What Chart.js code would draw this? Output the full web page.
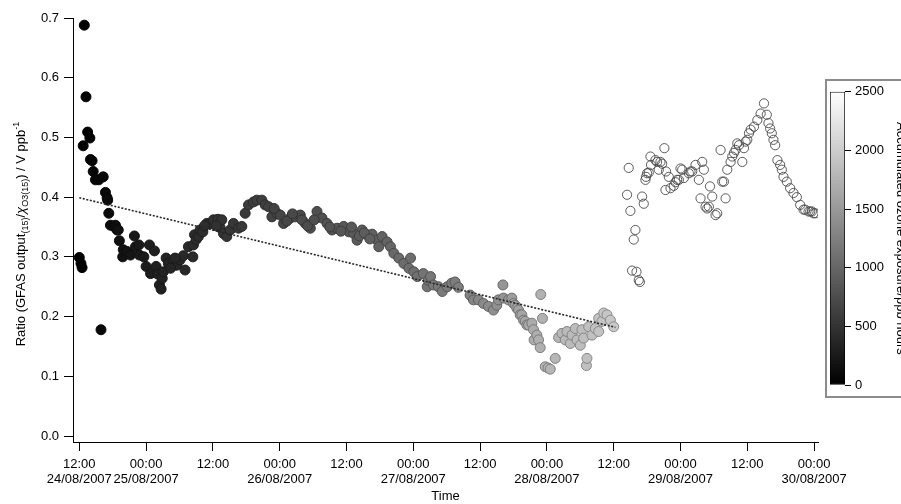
<!DOCTYPE html>
<html>
<head>
<meta charset="utf-8">
<script src="https://cdn.jsdelivr.net/npm/chart.js@4.4.1/dist/chart.umd.min.js"></script>
<style>
  html, body { margin: 0; padding: 0; background: #fff; overflow: hidden; }
  #wrap { position: relative; width: 901px; height: 504px; overflow: hidden; }
  #main { position: absolute; left: 0; top: 0; }
  #cbBox { position: absolute; left: 825px; top: 79px; width: 120px; height: 319px;
           border: 2px solid #8c8c8c; box-sizing: border-box; }
  #cb { position: absolute; left: 826px; top: 80px; }
</style>
</head>
<body>
<div id="wrap">
  <canvas id="main" width="901" height="504"></canvas>
  <div id="cbBox"></div>
  <canvas id="cb" width="82" height="318"></canvas>
</div>
<script>
/* Ratio of GFAS output to ozone, coloured by accumulated exposure */

const FONT = "'Liberation Sans', Arial, Helvetica, sans-serif";

// ---------------------- Data ----------------------
// x = hours since 24/08/2007 00:00
const X_TICK_HOURS = [12, 24, 36, 48, 60, 72, 84, 96, 108, 120, 132, 144];
const X_TICK_TIMES = ['12:00', '00:00', '12:00', '00:00', '12:00', '00:00',
                      '12:00', '00:00', '12:00', '00:00', '12:00', '00:00'];
const X_TICK_DATES = ['24/08/2007', '25/08/2007', '', '26/08/2007', '', '27/08/2007',
                      '', '28/08/2007', '', '29/08/2007', '', '30/08/2007'];
const Y_TICKS = [0, 0.1, 0.2, 0.3, 0.4, 0.5, 0.6, 0.7];
const CB_TICKS = [0, 500, 1000, 1500, 2000, 2500];

// points with exposure data (filled, grey scale)
const FILLED_HOURS = [
  12.0, 12.3, 12.5, 12.7, 12.9, 13.2, 13.5, 13.9, 14.0, 14.3,
  14.5, 14.9, 15.5, 15.9, 16.3, 16.7, 17.0, 17.1, 17.3, 17.6,
  18.2, 18.5, 18.8, 19.0, 19.2, 19.8, 19.9, 20.6, 21.2, 21.9,
  22.1, 22.7, 22.8, 23.6, 24.0, 24.6, 24.8, 25.5, 25.8, 26.1,
  26.4, 26.7, 26.9, 27.1, 27.6, 28.0, 28.9, 29.5, 30.1, 30.7,
  31.0, 31.6, 32.4, 32.5, 32.7, 33.0, 33.4, 33.7, 34.2, 34.9,
  35.5, 36.1, 36.9, 37.3, 37.6, 37.9, 38.5, 39.1, 39.7, 40.6,
  41.2, 41.8, 42.4, 43.3, 43.9, 44.8, 45.4, 46.0, 46.6, 47.5,
  48.1, 48.7, 49.9, 50.8, 51.7, 52.6, 53.5, 54.7, 55.6, 56.5,
  57.4, 58.3, 59.5, 60.4, 61.3, 61.9, 62.8, 63.7, 64.6, 65.5,
  65.8, 66.4, 67.3, 67.9, 68.5, 69.4, 70.3, 71.2, 71.5, 72.1,
  72.7, 73.8, 74.5, 74.7, 75.1, 75.6, 76.5, 77.2, 78.1, 78.9,
  79.5, 80.1, 82.2, 82.8, 83.7, 84.6, 85.5, 86.4, 87.0, 87.3,
  88.1, 88.2, 89.1, 89.7, 90.0, 90.3, 90.6, 90.9, 91.2, 91.5,
  91.8, 92.1, 92.4, 92.7, 93.3, 93.6, 93.7, 94.2, 94.5, 94.8,
  94.9, 95.2, 95.7, 96.2, 96.6, 97.5, 98.1, 98.7, 99.3, 99.6,
  100.2, 100.5, 101.1, 101.4, 102.0, 102.3, 102.6, 103.1, 103.2, 103.5,
  104.1, 104.7, 105.3, 105.3, 105.9, 106.2, 106.8, 107.4, 108.0,
  28.4, 29.2, 34.5, 36.6, 47.0, 49.3, 50.3, 52.0, 53.0, 54.2,
  57.0, 59.0, 60.9, 62.3, 63.2, 64.2,
];
const FILLED_RATIO = [
  0.299, 0.289, 0.282, 0.486, 0.688, 0.568, 0.509, 0.499, 0.463, 0.461,
  0.443, 0.429, 0.429, 0.178, 0.434, 0.408, 0.399, 0.395, 0.373, 0.353,
  0.351, 0.353, 0.345, 0.345, 0.327, 0.300, 0.312, 0.309, 0.303, 0.335,
  0.317, 0.320, 0.303, 0.300, 0.284, 0.320, 0.272, 0.310, 0.284, 0.271,
  0.253, 0.246, 0.264, 0.275, 0.298, 0.289, 0.292, 0.286, 0.295, 0.302,
  0.278, 0.317, 0.300, 0.320, 0.337, 0.329, 0.334, 0.345, 0.342, 0.356,
  0.355, 0.362, 0.363, 0.349, 0.362, 0.339, 0.334, 0.345, 0.356, 0.348,
  0.351, 0.373, 0.387, 0.392, 0.395, 0.395, 0.387, 0.384, 0.367, 0.373,
  0.370, 0.356, 0.365, 0.367, 0.370, 0.356, 0.348, 0.376, 0.365, 0.356,
  0.345, 0.348, 0.351, 0.342, 0.339, 0.328, 0.345, 0.337, 0.338, 0.328,
  0.317, 0.334, 0.325, 0.317, 0.306, 0.298, 0.289, 0.281, 0.298, 0.275,
  0.267, 0.272, 0.250, 0.261, 0.267, 0.253, 0.250, 0.242, 0.250, 0.256,
  0.258, 0.249, 0.236, 0.228, 0.228, 0.222, 0.217, 0.211, 0.219, 0.228,
  0.253, 0.231, 0.228, 0.231, 0.222, 0.219, 0.214, 0.211, 0.203, 0.203,
  0.194, 0.192, 0.186, 0.186, 0.189, 0.178, 0.161, 0.169, 0.161, 0.148,
  0.237, 0.197, 0.116, 0.114, 0.112, 0.130, 0.165, 0.172, 0.161, 0.175,
  0.155, 0.169, 0.180, 0.161, 0.152, 0.178, 0.164, 0.118, 0.130, 0.183,
  0.169, 0.180, 0.197, 0.175, 0.192, 0.206, 0.203, 0.194, 0.183,
  0.281, 0.298, 0.352, 0.352, 0.381, 0.360, 0.372, 0.362, 0.352, 0.362,
  0.350, 0.343, 0.350, 0.335, 0.340, 0.330,
];
// accumulated ozone exposure / ppb hours (read from the grey level)
const FILLED_EXPOSURE = [
  0, 5, 10, 15, 20, 25, 30, 35, 40, 45,
  50, 55, 65, 70, 80, 90, 100, 105, 110, 120,
  130, 140, 150, 155, 160, 175, 180, 195, 210, 225,
  230, 240, 245, 260, 270, 280, 285, 300, 305, 310,
  315, 320, 325, 330, 340, 345, 360, 370, 380, 390,
  395, 405, 415, 420, 425, 430, 435, 440, 450, 460,
  470, 480, 490, 495, 500, 505, 515, 525, 535, 550,
  560, 570, 580, 595, 605, 620, 630, 640, 650, 665,
  675, 685, 700, 715, 730, 745, 760, 775, 790, 805,
  820, 835, 850, 865, 880, 890, 905, 920, 935, 950,
  955, 965, 985, 1000, 1015, 1035, 1055, 1075, 1080, 1095,
  1110, 1135, 1150, 1155, 1170, 1175, 1185, 1195, 1205, 1220,
  1230, 1240, 1280, 1290, 1320, 1350, 1375, 1400, 1420, 1430,
  1460, 1462, 1500, 1540, 1570, 1580, 1590, 1600, 1610, 1620,
  1630, 1640, 1650, 1660, 1680, 1690, 1692, 1710, 1720, 1730,
  1732, 1740, 1750, 1765, 1770, 1785, 1795, 1805, 1815, 1820,
  1830, 1835, 1845, 1850, 1860, 1865, 1870, 1880, 1882, 1885,
  1895, 1905, 1915, 1915, 1925, 1930, 1940, 1950, 1960,
  352, 365, 455, 485, 658, 692, 705, 735, 752, 770,
  812, 840, 872, 895, 912, 928,
];

// points without exposure data (open circles)
const OPEN_HOURS = [
  110.4, 110.7, 111.0, 111.3, 111.6, 111.9, 112.1, 112.5, 112.7, 113.1,
  113.4, 113.7, 113.8, 114.0, 114.3, 114.6, 114.7, 115.5, 115.8, 116.1,
  116.4, 116.7, 117.1, 117.3, 117.4, 117.9, 118.2, 118.8, 119.1, 119.4,
  119.7, 120.0, 120.3, 120.6, 121.5, 121.8, 122.1, 122.7, 123.3, 123.6,
  123.9, 124.2, 124.5, 124.8, 125.1, 125.3, 125.7, 126.3, 126.6, 127.2,
  127.5, 127.8, 128.1, 128.4, 129.0, 129.3, 129.6, 129.9, 130.2, 130.5,
  131.1, 131.4, 131.7, 132.0, 132.3, 132.6, 133.2, 133.8, 134.4, 135.0,
  135.5, 135.8, 136.1, 136.4, 136.7, 137.0, 137.4, 137.9, 138.2, 138.5,
  139.1, 139.7, 140.3, 140.9, 141.5, 142.1, 142.4, 143.0, 143.3, 143.6,
  143.9, 144.2,
];
const OPEN_RATIO = [
  0.404, 0.449, 0.377, 0.277, 0.329, 0.345, 0.275, 0.261, 0.258, 0.401,
  0.389, 0.429, 0.434, 0.440, 0.441, 0.468, 0.454, 0.462, 0.459, 0.446,
  0.459, 0.456, 0.482, 0.412, 0.443, 0.434, 0.415, 0.419, 0.425, 0.429,
  0.429, 0.448, 0.446, 0.432, 0.440, 0.443, 0.443, 0.454, 0.429, 0.398,
  0.459, 0.446, 0.384, 0.381, 0.384, 0.418, 0.401, 0.370, 0.373, 0.479,
  0.426, 0.426, 0.398, 0.446, 0.459, 0.468, 0.474, 0.479, 0.490, 0.487,
  0.459, 0.482, 0.493, 0.496, 0.507, 0.513, 0.518, 0.529, 0.540, 0.557,
  0.538, 0.524, 0.515, 0.507, 0.496, 0.487, 0.462, 0.454, 0.446, 0.434,
  0.426, 0.415, 0.407, 0.400, 0.387, 0.379, 0.379, 0.376, 0.376, 0.376,
  0.373, 0.373,
];

// linear fit
const TREND_HOURS = [12.0, 108.3];
const TREND_RATIO = [0.399, 0.182];

const CB_MAX = 2500;

// ---------------------- Helpers ----------------------
const toPoints = (xs, ys) => xs.map((x, i) => ({ x, y: ys[i] }));

function greyOf(e, k = 1) {
  const g = Math.round(255 * Math.min(e, CB_MAX) / CB_MAX * k);
  return `rgb(${g},${g},${g})`;
}

// y title with sub/superscripts
const Y_TITLE_PARTS = [
  { text: 'Ratio (GFAS output', kind: 'n' },
  { text: '(15)', kind: 'sub' },
  { text: '/', kind: 'n' },
  { text: 'χ', kind: 'i' },
  { text: 'O3(15)', kind: 'sub' },
  { text: ') / V ppb', kind: 'n' },
  { text: '-1', kind: 'sup' },
];

const yTitlePlugin = {
  id: 'yTitle',
  afterDraw(chart) {
    const { ctx, chartArea } = chart;
    const fonts = { n: `13px ${FONT}`, i: `italic 13px ${FONT}`, sub: `9px ${FONT}`, sup: `9px ${FONT}` };
    const shift = { n: 0, i: 0, sub: 3, sup: -6 };
    ctx.save();
    let total = 0;
    const widths = Y_TITLE_PARTS.map(p => {
      ctx.font = fonts[p.kind];
      const w = ctx.measureText(p.text).width;
      total += w;
      return w;
    });
    ctx.translate(25, (chartArea.top + chartArea.bottom) / 2 + 4);
    ctx.rotate(-Math.PI / 2);
    ctx.fillStyle = '#000';
    ctx.textBaseline = 'alphabetic';
    ctx.textAlign = 'left';
    let x = -total / 2;
    Y_TITLE_PARTS.forEach((p, i) => {
      ctx.font = fonts[p.kind];
      ctx.fillText(p.text, x, shift[p.kind]);
      x += widths[i];
    });
    ctx.restore();
  },
};

// ---------------------- Main chart ----------------------
new Chart(document.getElementById('main'), {
  type: 'scatter',
  data: {
    datasets: [
      {
        label: 'fit',
        data: toPoints(TREND_HOURS, TREND_RATIO),
        showLine: true,
        borderColor: '#262626',
        borderWidth: 1.6,
        borderDash: [2, 1.6],
        pointRadius: 0,
      },
      {
        label: 'ratio',
        data: toPoints(FILLED_HOURS, FILLED_RATIO),
        pointRadius: 5,
        pointBackgroundColor: FILLED_EXPOSURE.map(e => greyOf(e)),
        pointBorderColor: FILLED_EXPOSURE.map(e => greyOf(e, 0.7)),
        pointBorderWidth: 1,
      },
      {
        label: 'ratio (no exposure)',
        data: toPoints(OPEN_HOURS, OPEN_RATIO),
        pointRadius: 4.6,
        pointBackgroundColor: 'rgba(0,0,0,0)',
        pointBorderColor: '#4a4a4a',
        pointBorderWidth: 0.9,
      },
    ],
  },
  options: {
    responsive: false,
    animation: false,
    events: [],
    layout: { padding: { left: 0, top: 18, right: 83, bottom: 0 } },
    plugins: { legend: { display: false }, tooltip: { enabled: false } },
    scales: {
      x: {
        type: 'linear',
        min: 10.87,
        max: 144.7,
        afterFit: (s) => { s.height = 62; },
        afterBuildTicks: (s) => { s.ticks = X_TICK_HOURS.map(v => ({ value: v })); },
        border: { display: true, color: '#000', width: 1 },
        grid: { drawOnChartArea: false, drawTicks: true, tickLength: 9, color: '#000' },
        ticks: {
          autoSkip: false,
          maxRotation: 0,
          minRotation: 0,
          padding: 6,
          color: '#000',
          font: { family: FONT, size: 13, lineHeight: 1.15 },
          callback: (v, i) => X_TICK_DATES[i] ? [X_TICK_TIMES[i], X_TICK_DATES[i]] : X_TICK_TIMES[i],
        },
        title: {
          display: true,
          text: 'Time',
          color: '#000',
          padding: { top: 0, bottom: 0 },
          font: { family: FONT, size: 13, lineHeight: 1.2 },
        },
      },
      y: {
        type: 'linear',
        min: -0.01,
        max: 0.70,
        afterFit: (s) => { s.width = 73; },
        afterBuildTicks: (s) => { s.ticks = Y_TICKS.map(v => ({ value: v })); },
        border: { display: true, color: '#000', width: 1 },
        grid: { drawOnChartArea: false, drawTicks: true, tickLength: 9, color: '#000' },
        ticks: {
          padding: 5,
          color: '#000',
          font: { family: FONT, size: 13 },
          callback: (v) => v.toFixed(1),
        },
      },
    },
  },
  plugins: [yTitlePlugin],
});

// ---------------------- Colour bar ----------------------
new Chart(document.getElementById('cb'), {
  type: 'bar',
  data: {
    labels: ['exposure'],
    datasets: [{
      data: [[0, CB_MAX]],
      backgroundColor: (c) => {
        const area = c.chart.chartArea;
        if (!area) return '#888';
        const g = c.chart.ctx.createLinearGradient(0, area.bottom, 0, area.top);
        g.addColorStop(0, '#000');
        g.addColorStop(1, '#fff');
        return g;
      },
      borderColor: '#000',
      borderWidth: 1,
      borderSkipped: false,
      barPercentage: 1,
      categoryPercentage: 1,
    }],
  },
  options: {
    responsive: false,
    animation: false,
    events: [],
    layout: { padding: { left: 4, top: 9, right: 0, bottom: 13 } },
    plugins: { legend: { display: false }, tooltip: { enabled: false } },
    scales: {
      x: { display: false },
      y: {
        position: 'right',
        min: 0,
        max: CB_MAX,
        afterFit: (s) => { s.width = 63; },
        afterBuildTicks: (s) => { s.ticks = CB_TICKS.map(v => ({ value: v })); },
        border: { display: false },
        grid: { drawOnChartArea: false, drawTicks: true, tickLength: 6, color: '#000' },
        ticks: {
          padding: 4,
          color: '#000',
          font: { family: FONT, size: 13 },
          callback: (v) => String(v),
        },
        title: {
          display: true,
          text: 'Accumulated ozone exposure/ppb hours',
          color: '#000',
          padding: 0,
          font: { family: FONT, size: 13, lineHeight: 1.2 },
        },
      },
    },
  },
});
</script>
</body>
</html>
